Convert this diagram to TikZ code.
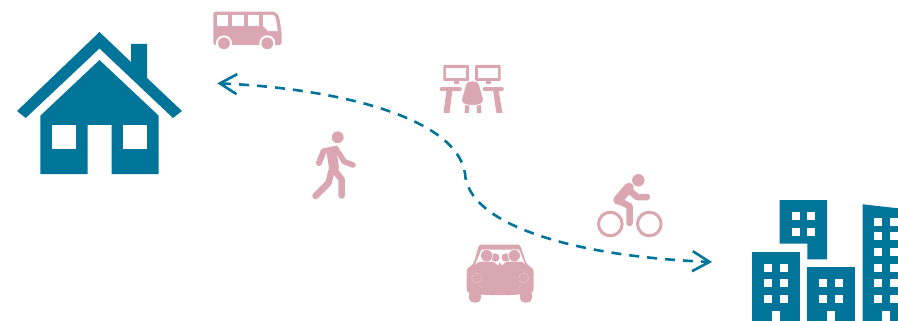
\documentclass[tikz,border=0pt]{standalone}
\usetikzlibrary{arrows.meta}
\definecolor{teal1}{RGB}{0,116,153}
\definecolor{pink1}{RGB}{218,166,178}
\tikzset{
  tealfill/.style={fill=teal1,draw=none},
  pinkfill/.style={fill=pink1,draw=none},
  holefill/.style={fill=white,draw=none},
  limb/.style={draw=pink1,line cap=round,line join=round,line width=#1},
  limb/.default=6pt,
  route/.style={draw=teal1,line width=2.6pt,dash pattern=on 10pt off 8pt,
    {Straight Barb[length=17pt,width=20pt,line width=2.6pt]}-{Straight Barb[length=17pt,width=20pt,line width=2.6pt]}}
}
\newcommand{\winsq}[2]{\fill[holefill] (#1,#2) rectangle ++(8,8);}
\begin{document}
\begin{tikzpicture}[x=1pt,y=-1pt]
\useasboundingbox (0,0) rectangle (898,321);
% house
\fill[tealfill] (99.5,32) -- (131,62) -- (131,44) -- (147,44) -- (147,78) -- (182,111) -- (173,118) -- (99.5,48.5) -- (25.7,118) -- (17,111) -- cycle;
\fill[tealfill] (99.5,60) -- (158.7,115.7) -- (158.7,174) -- (111.5,174) -- (111.5,125) -- (87.7,125) -- (87.7,174) -- (40.3,174) -- (40.3,115.7) -- cycle;
\fill[holefill] (52,125) rectangle (76,148.7);
\fill[holefill] (123,125) rectangle (147,148.7);
% bus
\fill[pinkfill,rounded corners=2.5pt] (213.3,11.7) -- (275,11.7) -- (279,16) -- (281.7,33) -- (281.7,45) -- (213.3,45) -- cycle;
\fill[holefill] (216.5,14.8) rectangle (228.2,26.2);
\fill[holefill] (232.2,14.8) rectangle (243.5,26.2);
\fill[holefill] (247.5,14.8) rectangle (259.2,26.2);
\fill[holefill] (263.2,14.8) -- (273.5,14.8) -- (275.5,17.5) -- (277.8,31.2) -- (268.5,31.2) -- (263.2,26.2) -- cycle;
\foreach \wx in {224,267.3}{
  \fill[holefill] (\wx,43.3) circle[radius=8];
  \fill[pinkfill] (\wx,43.3) circle[radius=5.9];
}
% office
\foreach \mx in {443.3,475}{
  \fill[pinkfill,rounded corners=1pt] (\mx,65) rectangle ++(25.7,16);
  \fill[holefill] (\mx+3,68) rectangle ++(19.7,9.7);
  \fill[pinkfill] (\mx+10.5,80.7) rectangle ++(5.5,3.8);
}
\draw[limb=3.6pt] (441.5,89.3) -- (460,89.3);
\draw[limb=3.6pt] (484.5,89.3) -- (502,89.3);
\fill[pinkfill] (446.5,90) -- (452.5,90) -- (449.5,113) -- (443.5,113) -- cycle;
\fill[pinkfill] (493,90) -- (498.5,90) -- (502.5,113) -- (496.5,113) -- cycle;
\fill[pinkfill] (465.5,103) -- (469.5,103) -- (469,113) -- (464.5,113) -- cycle;
\fill[pinkfill] (476.5,103) -- (480.5,103) -- (481.5,113) -- (477,113) -- cycle;
\filldraw[fill=pink1,draw=white,line width=0.9pt] (472.5,81) .. controls (467.5,81) and (465.5,82.5) .. (465,87) -- (461.5,99) .. controls (461,104) and (466,105.5) .. (472.5,105.5) .. controls (479,105.5) and (484,104) .. (483.5,99) -- (480,87) .. controls (479.5,82.5) and (477.5,81) .. (472.5,81) -- cycle;
% walker
\fill[pinkfill] (337.7,137.3) circle[radius=5.9];
\draw[limb=10pt] (331.5,151.5) -- (334,168);
\fill[pinkfill] (323,148.5) -- (337,145.5) -- (340,150) -- (331,158) -- cycle;
\draw[limb=6pt] (323.5,151.5) -- (319,163);
\draw[limb=5.5pt] (339,153) -- (344,161.5) -- (353,165);
\draw[limb=6.5pt] (331.5,171) -- (328.5,183) -- (315.5,196);
\draw[limb=6.5pt] (335,171) -- (341.7,179.5) -- (341.7,195.5);
% cyclist
\fill[pinkfill] (638.3,180.3) circle[radius=6.2];
\draw[draw=pink1,line width=3pt] (610.3,224) circle[radius=11.8];
\draw[draw=pink1,line width=3pt] (649.3,224) circle[radius=11.8];
\draw[limb=6.5pt] (628,189) -- (637,197) -- (647,197);
\draw[limb=9.5pt] (629,187.5) -- (618,200);
\draw[limb=6.5pt] (617,200) -- (629.5,206) -- (629.5,223);
% car
\fill[pinkfill,rounded corners=2.5pt] (479,244.5) -- (520,244.5) -- (526.5,264) -- (533.5,269) -- (533.5,292) .. controls (520,296) and (480,296) .. (466.7,292) -- (466.7,269) -- (473.5,264) -- cycle;
\fill[pinkfill,rounded corners=4.5pt] (469,290) rectangle (481,302.5);
\fill[pinkfill,rounded corners=4.5pt] (520,290) rectangle (532,302.5);
\fill[holefill] (481.5,249.5) -- (519,249.5) -- (525.5,265) -- (475,265) -- cycle;
\fill[pinkfill] (495.3,257.5) circle[radius=4.2];
\fill[pinkfill] (505.7,257.5) circle[radius=4.2];
\fill[holefill] (486.7,255.7) circle[radius=6.4];
\fill[holefill] (514.3,255.7) circle[radius=6.4];
\fill[pinkfill] (486.7,255.7) circle[radius=5.7];
\fill[pinkfill] (514.3,255.7) circle[radius=5.7];
\fill[pinkfill] (474,267) .. controls (476,262) and (480,261.5) .. (484,261.5) -- (490,261.5) .. controls (494,261.5) and (497,264) .. (498.5,267) -- cycle;
\fill[pinkfill] (527,267) .. controls (525,262) and (521,261.5) .. (517,261.5) -- (510,261.5) .. controls (506,261.5) and (503,264) .. (501.5,267) -- cycle;
\fill[pinkfill] (497,267) -- (500,262.5) -- (503,267) -- cycle;
\draw[white,line width=0.4pt,densely dotted] (476.7,278) circle[radius=5];
\draw[white,line width=0.4pt,densely dotted] (523.7,278) circle[radius=5];
% buildings
\fill[tealfill] (779.7,200) -- (827,200) -- (827,259.3) -- (807.3,259.3) -- (807.3,243.7) -- (779.7,243.7) -- cycle;
\foreach \wy in {212.3,228}{\winsq{791.7}{\wy}\winsq{807.3}{\wy}}
\fill[tealfill] (752,251.7) rectangle (799.7,321);
\foreach \wy in {263.7,279.3,295.3}{\winsq{764}{\wy}\winsq{779.7}{\wy}}
\fill[holefill] (771.7,311) rectangle (779.7,321);
\fill[tealfill] (807.3,267.3) rectangle (854.7,321);
\foreach \wy in {279.3,295.3}{\winsq{819.3}{\wy}\winsq{835}{\wy}}
\fill[holefill] (827,311) rectangle (835,321);
\fill[tealfill] (862.7,204.3) -- (898,208.3) -- (898,321) -- (862.7,321) -- cycle;
\foreach \wy in {218,232,247.7,263.7,279.3,295.3}{\winsq{874.3}{\wy}\winsq{890}{\wy}}
\fill[holefill] (882.3,311) rectangle (890.3,321);
% route
\coordinate (homeEnd) at (217.3,83.3);
\coordinate (bend) at (465,173);
\coordinate (workEnd) at (712,262);
\draw[route] (homeEnd) .. controls (330,88) and (455,115) .. (bend) .. controls (467,222) and (565,256) .. (workEnd);
\end{tikzpicture}
\end{document}
